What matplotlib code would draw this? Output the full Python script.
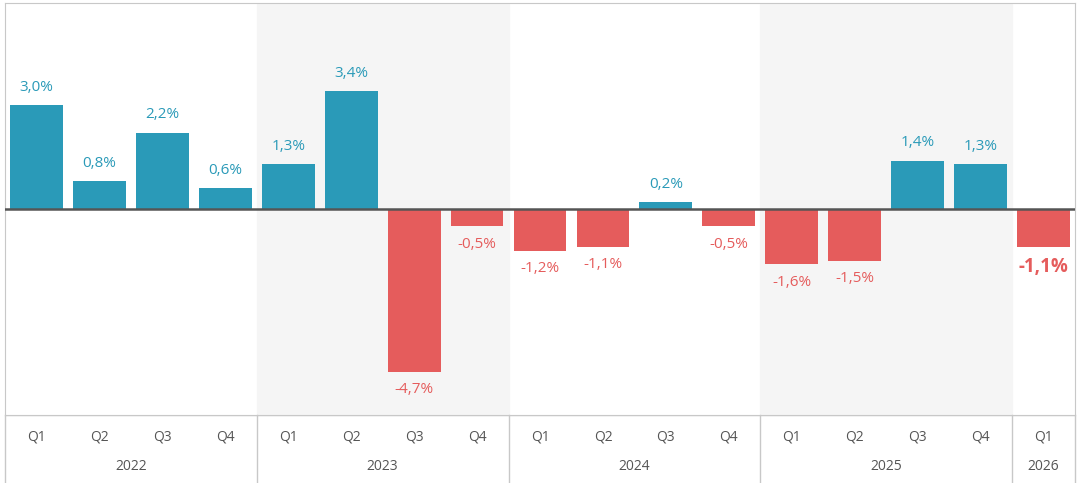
import matplotlib.pyplot as plt
import numpy as np

plt.rcParams['font.family'] = ['Open Sans', 'DejaVu Sans']

quarters = ['Q1', 'Q2', 'Q3', 'Q4'] * 4 + ['Q1']
years = ['2022', '2023', '2024', '2025', '2026']
year_counts = [4, 4, 4, 4, 1]
values = [3.0, 0.8, 2.2, 0.6, 1.3, 3.4, -4.7, -0.5, -1.2, -1.1, 0.2, -0.5,
          -1.6, -1.5, 1.4, 1.3, -1.1]

blue = '#2a9ab8'
red = '#e55c5c'
grid_c = '#c8c8c8'

W, H = 1080, 483
fig = plt.figure(figsize=(W / 100, H / 100), dpi=100)
left, right, top, zero_bot = 5, 1075, 3, 415
ax = fig.add_axes([left / W, (H - zero_bot) / H, (right - left) / W, (zero_bot - top) / H])
axc = fig.add_axes([left / W, 0, (right - left) / W, (H - zero_bot) / H])

n = len(values)
x = np.arange(n)
ax.set_xlim(-0.5, n - 0.5)
ax.set_ylim(-5.95, 5.95)

# shaded bands for alternate years
start = 0
for i, c in enumerate(year_counts):
    if i % 2 == 1:
        ax.axvspan(start - 0.5, start + c - 0.5, color='#f5f5f5', zorder=0)
    start += c

colors = [blue if v >= 0 else red for v in values]
ax.bar(x, values, width=0.84, color=colors, zorder=2)
ax.axhline(0, color='#555555', lw=1.8, zorder=3)

for i, v in enumerate(values):
    lab = f'{v:.1f}%'.replace('.', ',')
    last = i == n - 1
    off = 0.3 if v >= 0 else -0.3
    ax.text(i, v + off, lab, ha='center', va='bottom' if v >= 0 else 'top',
            color=colors[i], fontsize=13.5 if last else 11,
            fontweight='bold' if last else 'normal', zorder=4)

ax.set_xticks([])
ax.set_yticks([])
for s in ax.spines.values():
    s.set_color(grid_c)

# category axis
axc.set_xlim(-0.5, n - 0.5)
axc.set_ylim(0, 1)
axc.axis('off')
axc.axhline(1, color=grid_c, lw=1)
for i, q in enumerate(quarters):
    axc.text(i, 0.68, q, ha='center', va='center', fontsize=10, color='#555555')
start = 0
for i, c in enumerate(year_counts):
    axc.text(start + (c - 1) / 2, 0.25, years[i], ha='center', va='center',
             fontsize=10, color='#555555')
    axc.plot([start - 0.5, start - 0.5], [0, 1], color=grid_c, lw=1, clip_on=False)
    start += c
axc.plot([n - 0.5, n - 0.5], [0, 1], color=grid_c, lw=1, clip_on=False)

fig.savefig('out.png', dpi=100)
